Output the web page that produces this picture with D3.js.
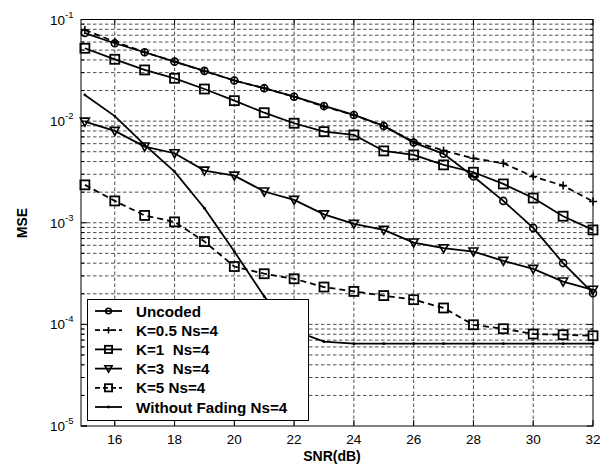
<!DOCTYPE html>
<html><head><meta charset="utf-8">
<script src="https://cdn.jsdelivr.net/npm/d3@7"></script>
<style>body{margin:0;background:#fff}svg{display:block}</style>
</head><body>
<svg id="c" width="607" height="470"></svg>
<script>
const snr = [15,16,17,18,19,20,21,22,23,24,25,26,27,28,29,30,31,32];
const uncoded = [0.0736,0.0584,0.0476,0.0385,0.0312,0.0251,0.0211,0.0174,0.0141,0.0115,0.00897,0.00615,0.00477,0.00285,0.00164,0.00089,0.000401,0.000203];
const k05 = [0.0788,0.0605,0.0476,0.0385,0.0310,0.0251,0.0211,0.0174,0.0139,0.0115,0.0089,0.0063,0.00513,0.00431,0.00385,0.00285,0.00232,0.00162];
const k1 = [0.0521,0.0406,0.0319,0.0264,0.0207,0.0159,0.0121,0.00953,0.00788,0.00731,0.00509,0.00465,0.00371,0.00314,0.00241,0.00175,0.00116,0.00085];
const k3 = [0.00988,0.00802,0.00562,0.00483,0.00326,0.00291,0.00203,0.00168,0.00121,0.000975,0.000851,0.000639,0.000562,0.000521,0.000422,0.000352,0.000264,0.000219];
const k5 = [0.00236,0.00164,0.00118,0.00102,0.000653,0.000371,0.000315,0.000281,0.000233,0.000211,0.000192,0.000175,0.000145,0.0000991,0.0000906,0.0000803,0.0000791,0.0000773];
const noFading = [0.0181,0.0112,0.00583,0.00318,0.00139,0.000521,0.000188,0.000087,0.0000676,0.0000646,0.0000646,0.0000646,0.0000646,0.0000646,0.0000646,0.0000646,0.0000646,0.0000646];
const seriesNames = ["Uncoded","K=0.5 Ns=4","K=1  Ns=4","K=3  Ns=4","K=5 Ns=4","Without Fading Ns=4"];
const xTicks = [16,18,20,22,24,26,28,30,32];
const yExps = [-1,-2,-3,-4,-5];

const series = [
  {name:seriesNames[0], data:uncoded, marker:"circle", dash:null},
  {name:seriesNames[1], data:k05, marker:"plus", dash:"6,4"},
  {name:seriesNames[2], data:k1, marker:"square", dash:null},
  {name:seriesNames[3], data:k3, marker:"tri", dash:null},
  {name:seriesNames[4], data:k5, marker:"square", dash:"6,4"},
  {name:seriesNames[5], data:noFading, marker:"dot", dash:null}
];

const L=81, R=593, T=19.5, B=426;
const svg = d3.select("#c");
const x = d3.scaleLinear().domain([14.87,32]).range([L,R]);
const y = d3.scaleLog().domain([1e-5,1e-1]).range([B,T]);

// grid
const g = svg.append("g");
const minorVals = [];
for (let e=-5;e<-1;e++) for (let m=1;m<10;m++) minorVals.push(m*Math.pow(10,e));
minorVals.push(0.1);
g.selectAll("line.hy").data(minorVals.filter(v=>v>1e-5 && v<0.1)).enter().append("line")
  .attr("x1",L).attr("x2",R).attr("y1",d=>y(d)).attr("y2",d=>y(d))
  .attr("stroke","#000").attr("stroke-width",0.7).attr("stroke-dasharray","3.5,2.5");
g.selectAll("line.vx").data(xTicks.filter(v=>v<32)).enter().append("line")
  .attr("x1",d=>x(d)).attr("x2",d=>x(d)).attr("y1",T).attr("y2",B)
  .attr("stroke","#000").attr("stroke-width",0.7).attr("stroke-dasharray","3.5,2.5");

// frame
svg.append("rect").attr("x",L).attr("y",T).attr("width",R-L).attr("height",B-T)
  .attr("fill","none").attr("stroke","#000").attr("stroke-width",1);

// ticks
const tk = svg.append("g").attr("stroke","#000").attr("stroke-width",1);
xTicks.forEach(v=>{
  tk.append("line").attr("x1",x(v)).attr("x2",x(v)).attr("y1",B).attr("y2",B-6);
  tk.append("line").attr("x1",x(v)).attr("x2",x(v)).attr("y1",T).attr("y2",T+6);
});
minorVals.filter(v=>v>=1e-5&&v<=0.1).forEach(v=>{
  const major = Math.abs(Math.log10(v)-Math.round(Math.log10(v)))<1e-9;
  const len = major?6:3.5;
  tk.append("line").attr("x1",L).attr("x2",L+len).attr("y1",y(v)).attr("y2",y(v));
  tk.append("line").attr("x1",R).attr("x2",R-len).attr("y1",y(v)).attr("y2",y(v));
});
tk.append("line").attr("x1",L).attr("x2",L+6).attr("y1",y(1e-5)).attr("y2",y(1e-5));

// tick labels
const font = "'Liberation Sans', Arial, sans-serif";
svg.selectAll("text.xt").data(xTicks).enter().append("text")
  .attr("x",d=>x(d)).attr("y",444).attr("text-anchor","middle")
  .attr("font-family",font).attr("font-size",13.5).attr("fill","#000").text(d=>d);
yExps.forEach(e=>{
  const t = svg.append("text").attr("x",50).attr("y",y(Math.pow(10,e))+5)
    .attr("text-anchor","start").attr("font-family",font).attr("font-size",13.5).attr("fill","#000");
  t.append("tspan").text("10");
  t.append("tspan").attr("dy",-7).attr("font-size",9.5).text(String(e));
});
svg.append("text").attr("x",332).attr("y",461).attr("text-anchor","middle")
  .attr("font-family",font).attr("font-weight","bold").attr("font-size",14).text("SNR(dB)");
svg.append("text").attr("transform","translate(27,223) rotate(-90)").attr("text-anchor","middle")
  .attr("font-family",font).attr("font-weight","bold").attr("font-size",14).text("MSE");

// curves
const line = d3.line().x((d,i)=>x(snr[i])).y(d=>y(d));
const plot = svg.append("g");
function drawMarker(sel, type, cx, cy, s){
  s = s||1;
  if(type==="circle") sel.append("circle").attr("cx",cx).attr("cy",cy).attr("r",3.5*s).attr("fill","none").attr("stroke","#000").attr("stroke-width",1.6);
  else if(type==="square") sel.append("rect").attr("x",cx-4.5*s).attr("y",cy-4.5*s).attr("width",9*s).attr("height",9*s).attr("fill","none").attr("stroke","#000").attr("stroke-width",1.8);
  else if(type==="tri") sel.append("path").attr("d",`M${cx-4.5*s},${cy-3.5*s}L${cx+4.5*s},${cy-3.5*s}L${cx},${cy+4.5*s}Z`).attr("fill","none").attr("stroke","#000").attr("stroke-width",1.6);
  else if(type==="plus") sel.append("path").attr("d",`M${cx-4*s},${cy}L${cx+4*s},${cy}M${cx},${cy-4*s}L${cx},${cy+4*s}`).attr("stroke","#000").attr("stroke-width",1.6);
  else if(type==="dot") sel.append("circle").attr("cx",cx).attr("cy",cy).attr("r",1.4).attr("fill","#000");
}
series.forEach(s=>{
  plot.append("path").datum(s.data).attr("d",line).attr("fill","none").attr("stroke","#000")
    .attr("stroke-width",1.8).attr("stroke-dasharray",s.dash);
  s.data.forEach((v,i)=>drawMarker(plot,s.marker,x(snr[i]),y(v)));
});

// legend
const lg = svg.append("g");
lg.append("rect").attr("x",87.5).attr("y",299.5).attr("width",221).attr("height",121)
  .attr("fill","#fff").attr("stroke","#000").attr("stroke-width",1);
series.forEach((s,i)=>{
  const yy = 311 + i*19.2;
  lg.append("line").attr("x1",95).attr("x2",122).attr("y1",yy).attr("y2",yy).attr("stroke","#000")
    .attr("stroke-width",1.8).attr("stroke-dasharray",s.dash?"5,3":null);
  drawMarker(lg,s.marker,108.5,yy,0.8);
  lg.append("text").attr("x",136).attr("y",yy+5.5).attr("font-family",font).attr("font-weight","bold")
    .attr("font-size",15.2).attr("fill","#000").attr("xml:space","preserve").text(s.name);
});
</script>
</body></html>
